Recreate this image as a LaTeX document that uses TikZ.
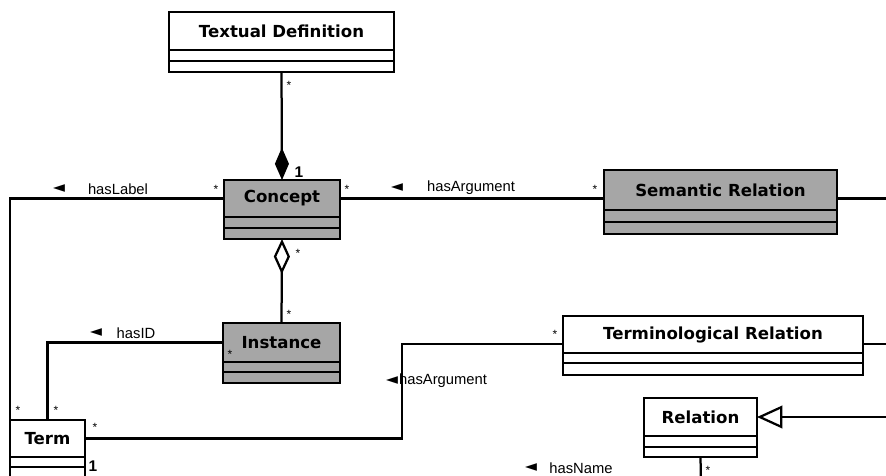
\documentclass[tikz,border=0pt]{standalone}
\usepackage{fontspec}
\setmainfont{Liberation Sans}
\newfontfamily\classfont{DejaVu Sans}
\newfontfamily\symfont{DejaVu Sans}
\usetikzlibrary{arrows.meta}
\newdimen\pxu \pxu=0.025cm
\definecolor{classgrey}{RGB}{166,166,166}

\begin{document}
\begin{tikzpicture}[x=0.025cm, y=-0.025cm, line width=1.6pt,
  classname/.style={draw, line width=1.9pt, inner sep=0pt, outer sep=0pt, anchor=north west,
    font=\classfont\bfseries\fontsize{11.8}{13}\selectfont},
  compart/.style={draw, line width=1.9pt, inner sep=0pt, outer sep=0pt, anchor=north west},
  mult/.style={inner sep=0pt, font=\fontsize{8.5}{9}\selectfont},
  one/.style={inner sep=0pt, font=\bfseries\fontsize{11}{12}\selectfont},
  role/.style={inner sep=0pt, font=\fontsize{10.5}{12}\selectfont},
  dirmark/.style={inner sep=0pt, font=\symfont\fontsize{11}{12}\selectfont}]
  \useasboundingbox (0,0) rectangle (886,475);

  % classes
  \node[classname, fill=white, minimum width=225\pxu, minimum height=38\pxu] (textdef) at (169,12) {Textual Definition};
  \node[compart, fill=white, minimum width=225\pxu, minimum height=11\pxu] (textdef-a) at (textdef.south west) {};
  \node[compart, fill=white, minimum width=225\pxu, minimum height=11\pxu] (textdef-b) at (textdef-a.south west) {};

  \node[classname, fill=classgrey, minimum width=116\pxu, minimum height=37\pxu] (concept) at (224,180) {Concept};
  \node[compart, fill=classgrey, minimum width=116\pxu, minimum height=11\pxu] (concept-a) at (concept.south west) {};
  \node[compart, fill=classgrey, minimum width=116\pxu, minimum height=11\pxu] (concept-b) at (concept-a.south west) {};

  \node[classname, fill=classgrey, minimum width=233\pxu, minimum height=40\pxu] (semrel) at (604,170) {Semantic Relation};
  \node[compart, fill=classgrey, minimum width=233\pxu, minimum height=12\pxu] (semrel-a) at (semrel.south west) {};
  \node[compart, fill=classgrey, minimum width=233\pxu, minimum height=12\pxu] (semrel-b) at (semrel-a.south west) {};

  \node[classname, fill=classgrey, minimum width=117\pxu, minimum height=39\pxu] (instance) at (223,323) {Instance};
  \node[compart, fill=classgrey, minimum width=117\pxu, minimum height=10\pxu] (instance-a) at (instance.south west) {};
  \node[compart, fill=classgrey, minimum width=117\pxu, minimum height=11\pxu] (instance-b) at (instance-a.south west) {};

  \node[classname, fill=white, minimum width=300\pxu, minimum height=37\pxu] (termrel) at (563,316) {Terminological Relation};
  \node[compart, fill=white, minimum width=300\pxu, minimum height=10\pxu] (termrel-a) at (termrel.south west) {};
  \node[compart, fill=white, minimum width=300\pxu, minimum height=12\pxu] (termrel-b) at (termrel-a.south west) {};

  \node[classname, fill=white, minimum width=113\pxu, minimum height=38\pxu] (relation) at (644,398) {Relation};
  \node[compart, fill=white, minimum width=113\pxu, minimum height=11\pxu] (relation-a) at (relation.south west) {};
  \node[compart, fill=white, minimum width=113\pxu, minimum height=10\pxu] (relation-b) at (relation-a.south west) {};

  \node[classname, fill=white, minimum width=75\pxu, minimum height=37\pxu] (term) at (10,420) {Term};
  \node[compart, fill=white, minimum width=75\pxu, minimum height=10\pxu] (term-a) at (term.south west) {};
  \node[compart, fill=white, minimum width=75\pxu, minimum height=16\pxu] (term-b) at (term-a.south west) {};

  % associations
  \draw[-{Diamond[length=23pt,width=10pt]}] (textdef-b.south) -- (concept.north);
  \draw[{Diamond[open,length=25pt,width=11.5pt]}-] (concept-b.south) -- (instance.north);
  \draw (concept.west) -| (term.north west);
  \draw (concept.east) -- (concept.east -| semrel.west);
  \coordinate (semrel-out) at (890,198.5);
  \draw (semrel-out -| semrel.east) -- (semrel-out);
  \draw (instance.west) -| (term.north);
  \coordinate (bend) at (402,344);
  \draw (term.east) -| (bend) -- (bend -| termrel.west);
  \coordinate (termrel-out) at (890,344);
  \draw (termrel-out -| termrel.east) -- (termrel-out);
  \coordinate (relation-out) at (890,417);
  \draw[-{Triangle[open,length=18pt,width=16pt]}] (relation-out) -- (relation.east);
  \coordinate (relation-down) at (701,485);
  \draw (relation-b.south) -- (relation-down);

  % multiplicities
  \node[mult] (m-td) at (289,85) {*};
  \node[one] (m-cd) at (299,172) {1};
  \node[mult] (m-cl) at (216,189) {*};
  \node[mult] (m-cr) at (347,189) {*};
  \node[mult] (m-sr) at (595,189) {*};
  \node[mult] (m-cb) at (298,253) {*};
  \node[mult] (m-it) at (289,314) {*};
  \node[mult] (m-il) at (230,354) {*};
  \node[mult] (m-tl) at (18,410) {*};
  \node[mult] (m-tm) at (56,410) {*};
  \node[mult] (m-tr) at (95,427) {*};
  \node[one] (m-tb) at (93,466) {1};
  \node[mult] (m-trl) at (555,334) {*};
  \node[mult] (m-rb) at (708,470) {*};

  % role names
  \node[dirmark] (d-label) at (59,189) {◄};
  \node[role] (r-label) at (118,189) {hasLabel};
  \node[dirmark] (d-arg) at (397,188) {◄};
  \node[role] (r-arg) at (471,188) {hasArgument};
  \node[dirmark] (d-id) at (96,333) {◄};
  \node[role] (r-id) at (136,333) {hasID};
  \node[dirmark] (d-targ) at (392,381) {◄};
  \node[role, anchor=west] (r-targ) at (398,381) {hasArgument};
  \node[dirmark] (d-name) at (531,468) {◄};
  \node[role] (r-name) at (581,468) {hasName};
\end{tikzpicture}
\end{document}
